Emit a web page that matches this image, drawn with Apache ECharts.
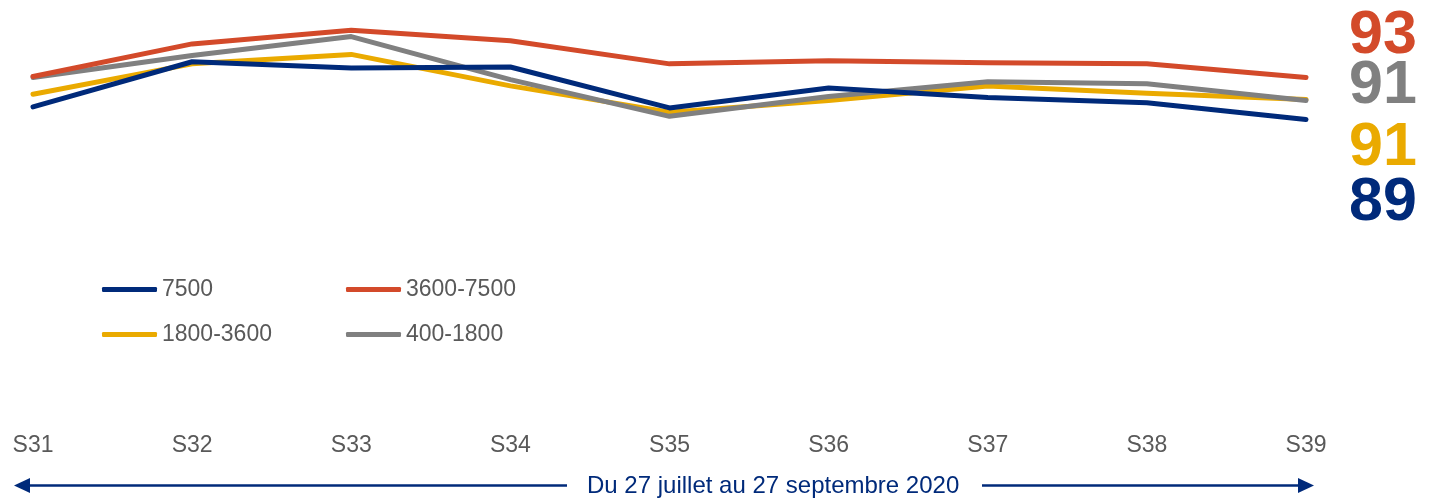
<!DOCTYPE html>
<html>
<head>
<meta charset="utf-8">
<script src="https://cdn.jsdelivr.net/npm/echarts@6/dist/echarts.min.js"></script>
<style>html,body{margin:0;padding:0;background:#fff}#c{width:1432px;height:499px}</style>
</head>
<body>
<div id="c"></div>
<script>
var categories = ['S31','S32','S33','S34','S35','S36','S37','S38','S39'];
var s7500 = [90.2, 94.5, 93.9, 94.0, 90.1, 92.0, 91.1, 90.6, 89.0];
var s3600 = [93.1, 96.2, 97.5, 96.5, 94.3, 94.6, 94.4, 94.3, 93.0];
var s1800 = [91.4, 94.3, 95.2, 92.2, 89.7, 90.8, 92.2, 91.5, 90.9];
var s400  = [93.0, 95.1, 96.9, 92.8, 89.3, 91.2, 92.6, 92.4, 90.8];
var seriesNames = ['7500','3600-7500','1800-3600','400-1800'];
var footnote = 'Du 27 juillet au 27 septembre 2020';

var colors = ['#002A7A','#D34A2A','#EAAA00','#808080'];
var labelOffsets = [[35,84],[35,-41],[35,49],[35,-14]];
var font = 'Arial, "Liberation Sans", sans-serif';

function mk(name, data, i, z){
  return {
    name: name, type: 'line', data: data, symbol: 'none', z: z,
    lineStyle: {width: 5, color: colors[i], cap: 'round', join: 'round'},
    itemStyle: {color: colors[i]},
    endLabel: {
      show: true, formatter: function(p){ return Math.round(p.value); },
      offset: labelOffsets[i], color: colors[i], fontSize: 61, fontWeight: 'bold',
      fontFamily: font
    },
    emphasis: {disabled: true}
  };
}

var chart = echarts.init(document.getElementById('c'));
chart.setOption({
  animation: false,
  grid: {left: 33, right: 126, top: 4, height: 210},
  xAxis: {
    type: 'category', data: categories, boundaryGap: false,
    axisLine: {show: false}, axisTick: {show: false}, splitLine: {show: false},
    axisLabel: {color: '#595959', fontSize: 23, fontFamily: font, margin: 220}
  },
  yAxis: {type: 'value', min: 80, max: 100, show: false},
  legend: {
    left: 102, top: 272, width: 500, orient: 'horizontal', padding: 0,
    icon: 'roundRect', itemWidth: 55, itemHeight: 5, itemGap: 10,
    data: seriesNames,
    textStyle: {color: '#595959', fontSize: 23, fontFamily: font, width: 174, lineHeight: 35}
  },
  series: [mk(seriesNames[0], s7500, 0, 4), mk(seriesNames[1], s3600, 1, 3), mk(seriesNames[2], s1800, 2, 1), mk(seriesNames[3], s400, 3, 2)],
  graphic: [
    {type: 'line', shape: {x1: 28, y1: 485.5, x2: 567, y2: 485.5}, style: {stroke: '#002A7A', lineWidth: 2.5}},
    {type: 'polygon', shape: {points: [[14,485.5],[30,478],[30,493]]}, style: {fill: '#002A7A'}},
    {type: 'line', shape: {x1: 982, y1: 485.5, x2: 1300, y2: 485.5}, style: {stroke: '#002A7A', lineWidth: 2.5}},
    {type: 'polygon', shape: {points: [[1314,485.5],[1298,478],[1298,493]]}, style: {fill: '#002A7A'}},
    {type: 'text', left: 587, top: 474, style: {text: footnote, fill: '#002A7A', fontSize: 24, fontFamily: font}}
  ]
});
</script>
</body>
</html>
